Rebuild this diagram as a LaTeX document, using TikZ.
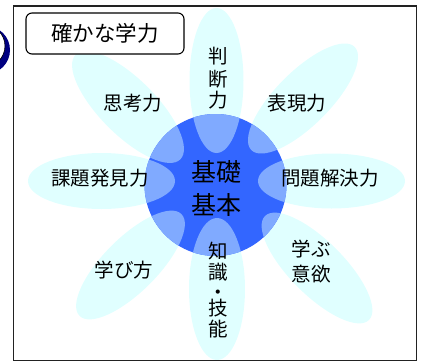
\documentclass[tikz,border=0pt]{standalone}
\usepackage{fontspec}
\newfontfamily\jp{Noto Sans CJK JP}
\definecolor{petal}{HTML}{E0FFFF}
\definecolor{core}{HTML}{3366FF}
\definecolor{corelight}{HTML}{80AAFF}
\definecolor{crescent}{HTML}{000080}
\definecolor{frameline}{HTML}{222222}
\newcommand\looselines{\lineskiplimit=-50pt\relax}
\tikzset{
  lbl/.style={font=\jp\fontsize{19.5}{21}\selectfont, inner sep=0pt, align=center, execute at begin node=\looselines},
  corelbl/.style={font=\jp\fontsize{25}{33}\selectfont, inner sep=0pt, align=center},
  titlebox/.style={draw=black, line width=1.1pt, rounded corners=6pt, fill=white, minimum width=158pt, minimum height=41pt, inner sep=0pt, font=\jp\fontsize{21.5}{24}\selectfont},
}
\begin{document}
\begin{tikzpicture}[x=1pt,y=-1pt]
\useasboundingbox (0,0) rectangle (421,362);
% stray crescent at left edge
\begin{scope}
  \clip (0,0) rectangle (20,100);
  \fill[crescent, even odd rule] (-14,50) circle[radius=24pt] (-16,46) circle[radius=21pt];
  \draw[black, line width=0.6pt] (-16,46) circle[radius=21pt];
\end{scope}
% petals
\begin{scope}
  \clip (14,7) rectangle (416,360);
  \foreach \cx/\cy/\ang/\ra/\rb in {
      216.5/80.5/90/72.5/27, 217/289/90/71/28,
      101.5/181/0/73.5/28, 331.5/181/0/73.5/27.5,
      303/98.5/45/73/27, 317/268/-45/73.5/27,
      130.5/265/45/72/27, 128/107/-45/74/28}
    \fill[petal, rotate around={\ang:(\cx,\cy)}] (\cx,\cy) ellipse[x radius=\ra pt, y radius=\rb pt];
\end{scope}
% core circle
\node[circle, fill=core, minimum size=142pt, inner sep=0pt] (core) at (215.5,185) {};
\begin{scope}
  \clip (215.5,185) circle[radius=71pt];
  \foreach \cx/\cy/\ang/\ra/\rb in {
      216.5/80.5/90/72.5/27, 217/289/90/71/28,
      101.5/181/0/73.5/28, 331.5/181/0/73.5/27.5,
      303/98.5/45/73/27, 317/268/-45/73.5/27,
      130.5/265/45/72/27, 128/107/-45/74/28}
    \fill[corelight, rotate around={\ang:(\cx,\cy)}] (\cx,\cy) ellipse[x radius=\ra pt, y radius=\rb pt];
\end{scope}
\node[corelbl] (kiso) at (216,188.5) {基礎\\基本};
% labels
\node[lbl] (handan) at (218,78.5) {判\\[2pt]断\\力};
\node[lbl] (hyogen) at (297,103) {表現力};
\node[lbl] (shiko) at (133,103) {思考力};
\node[lbl] (kadai) at (100,178) {課題発見力};
\node[lbl] (mondai) at (330,178) {問題解決力};
\node[lbl] (manabikata) at (124,270) {学び方};
\node[lbl, font=\jp\fontsize{19.5}{25}\selectfont] (iyoku) at (311,261.5) {学ぶ\\意欲};
\node[lbl] (chishiki) at (218,290.5) {知\\識\\[-1pt]・\\[-5pt]技\\能};
% frame
\draw[frameline, line width=1.8pt] (13.5,6) rectangle (416.5,360.5);
\node[titlebox] (title) at (105,33.5) {確かな学力};
\end{tikzpicture}
\end{document}
